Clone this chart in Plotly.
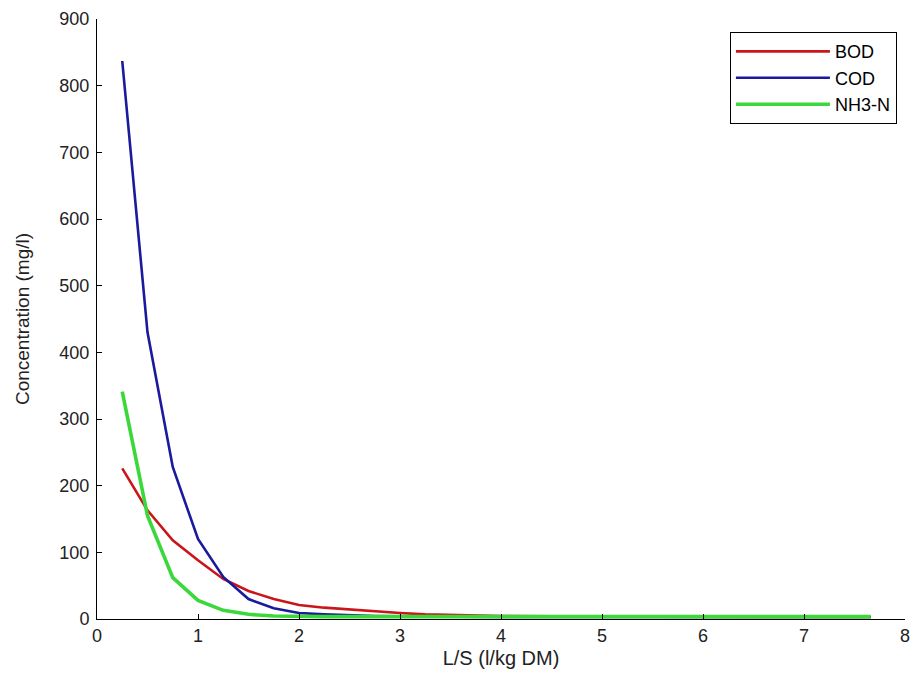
import plotly.graph_objects as go

ls_ratio = [0.25, 0.5, 0.75, 1.0, 1.25, 1.5, 1.75, 2.0, 2.25, 2.5, 2.75, 3.0, 3.25, 3.5,
            3.75, 4.0, 4.5, 5.0, 5.5, 6.0, 6.5, 7.0, 7.5, 7.66]
bod = [226, 163, 118, 88, 60, 42, 30, 21, 17, 14, 11, 9, 7, 6,
       5, 4.5, 4, 3.5, 3, 3, 3, 3, 3, 3]
cod = [837, 430, 228, 120, 63, 30, 16, 9, 7, 5.5, 4.5, 4, 3.5, 3,
       3, 3, 3, 3, 3, 3, 3, 3, 3, 3]
nh3n = [341, 155, 62, 28, 13, 7, 4.5, 3.5, 3.5, 3.5, 3.5, 3.5, 3.5, 3.5,
        3.5, 3.5, 3.5, 3.5, 3.5, 3.5, 3.5, 3.5, 3.5, 3.5]

series_names = ["BOD", "COD", "NH3-N"]
x_ticks = [0, 1, 2, 3, 4, 5, 6, 7, 8]
y_ticks = [0, 100, 200, 300, 400, 500, 600, 700, 800, 900]

FONT = "Liberation Sans, Arial, sans-serif"

fig = go.Figure()
fig.add_trace(go.Scatter(x=ls_ratio, y=bod, mode="lines", name=series_names[0],
                         line=dict(color="#c8161b", width=2.6)))
fig.add_trace(go.Scatter(x=ls_ratio, y=cod, mode="lines", name=series_names[1],
                         line=dict(color="#1a1a9c", width=2.6)))
fig.add_trace(go.Scatter(x=ls_ratio, y=nh3n, mode="lines", name=series_names[2],
                         line=dict(color="#3ad83a", width=3.6)))

fig.update_layout(
    width=912, height=686,
    margin=dict(l=97, r=7, t=19, b=67),
    paper_bgcolor="white", plot_bgcolor="white",
    font=dict(family=FONT, size=18, color="#222222"),
    showlegend=True,
    legend=dict(x=0.99, y=0.978, xanchor="right", yanchor="top",
                bgcolor="white", bordercolor="black", borderwidth=1,
                itemwidth=94, font=dict(size=18, color="black"), tracegroupgap=0),
    xaxis=dict(range=[0, 8], tickvals=x_ticks, showgrid=False, zeroline=False,
               showline=True, linecolor="black", linewidth=1, mirror=False,
               ticks="inside", ticklen=5, tickcolor="black", automargin=False,
               tickfont=dict(size=18),
               title=dict(text="L/S (l/kg DM)", standoff=6, font=dict(size=20))),
    yaxis=dict(range=[0, 900], tickvals=y_ticks, showgrid=False, zeroline=False,
               showline=True, linecolor="black", linewidth=1, mirror=False,
               ticks="inside", ticklen=5, tickcolor="black", automargin=False,
               tickfont=dict(size=18), ticklabelstandoff=3,
               title=dict(text="Concentration (mg/l)", standoff=24, font=dict(size=19))),
)

fig.write_html(
    "out.html",
    config={"displayModeBar": False},
    post_script="document.body.style.margin='0';document.body.style.overflow='hidden';",
)
